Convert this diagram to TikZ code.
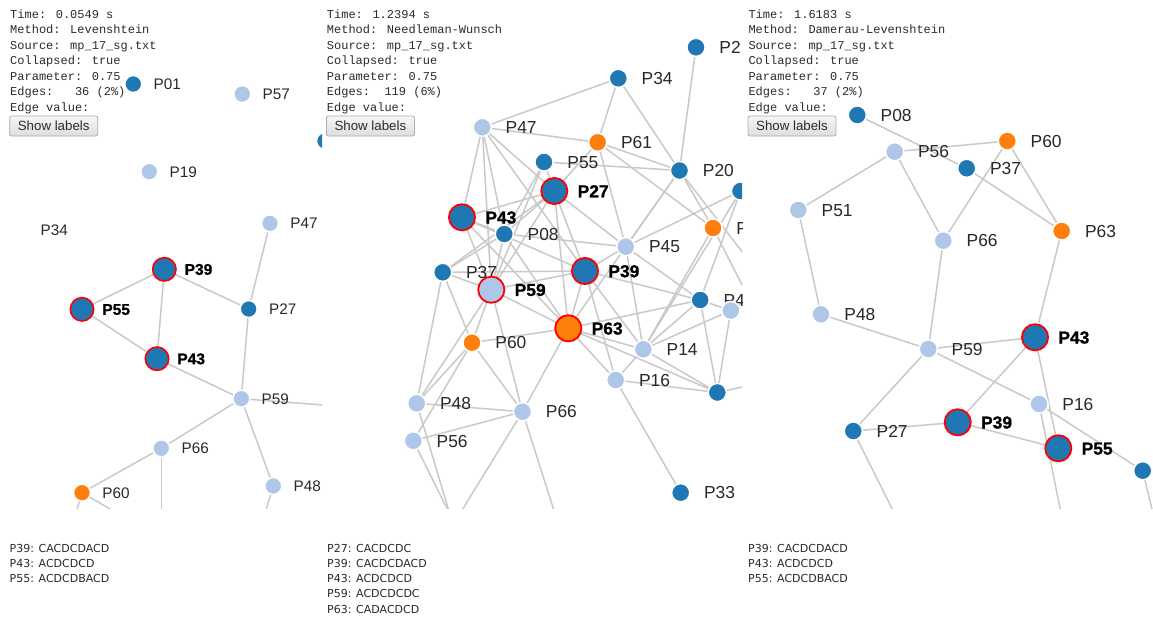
\documentclass[tikz,border=0pt]{standalone}
\usepackage{fontspec}
\setmainfont{Liberation Sans}
\newfontfamily\monof{Liberation Mono}
\newfontfamily\heavyf{Liberation Sans}[BoldFeatures={FakeBold=1}]
\newfontfamily\seqf{DejaVu Sans}
\pgfdeclarelayer{edges}
\pgfsetlayers{edges,main}
\definecolor{dkb}{HTML}{1F77B4}
\definecolor{ltb}{HTML}{AEC7E8}
\definecolor{org}{HTML}{FF7F0E}
\definecolor{edg}{HTML}{C9C9C9}
\definecolor{txt}{HTML}{2B2B2B}
\definecolor{labc}{HTML}{282828}
\definecolor{btnb}{HTML}{ADADAD}
\definecolor{btnt}{HTML}{F6F6F6}
\definecolor{btnbot}{HTML}{DDDDDD}
\tikzset{
  x=1pt, y=-1pt,
  nd/.style={circle, inner sep=0pt, outer sep=0pt, draw=white, line width=1.5pt},
  sm1/.style={nd, minimum size=17pt},
  big1/.style={nd, draw=red, line width=1.6pt, minimum size=23.4pt},
  sm/.style={nd, minimum size=18.2pt},
  big/.style={nd, draw=red, line width=1.8pt, minimum size=26.2pt},
  dk/.style={fill=dkb}, lt/.style={fill=ltb}, og/.style={fill=org},
  lab1/.style={anchor=west, xshift=20.2pt, inner sep=0pt, text height=11pt, text depth=0pt,
    font=\fontsize{15.3pt}{16pt}\selectfont, text=labc},
  blab1/.style={lab1, font=\heavyf\fontsize{15.5pt}{16pt}\selectfont\bfseries, text=black},
  lab/.style={anchor=west, xshift=23.2pt, inner sep=0pt, text height=12.5pt, text depth=0pt,
    font=\fontsize{17.4pt}{18pt}\selectfont, text=labc},
  blab/.style={lab, font=\heavyf\fontsize{17.4pt}{18pt}\selectfont\bfseries, text=black},
  edge/.style={draw=edg, line width=1.5pt},
  info/.style={anchor=base west, inner sep=0pt, font=\monof\fontsize{12pt}{14pt}\selectfont, text=txt},
  btn/.style={draw=btnb, line width=0.8pt, rounded corners=2pt, top color=btnt, bottom color=btnbot,
    minimum width=88pt, minimum height=20pt, inner sep=0pt, font=\fontsize{13.3pt}{14pt}\selectfont, text=txt},
  seq/.style={anchor=base west, inner sep=0pt, font=\seqf\fontsize{11pt}{12pt}\selectfont, text=txt},
}
\newcommand\vtx[6]{\node[#4] (#1) at (#2,#3) {}; \node[#5] (#1-l) at (#2,#3) {#6};}
\begin{document}
\begin{tikzpicture}
\useasboundingbox (0,0) rectangle (1153,619);
\begin{pgfonlayer}{edges}
\fill[white] (0,0) rectangle (1153,619);
\end{pgfonlayer}

% ---------------- panel 1 ----------------
\begin{scope}
\clip (0,0) rectangle (322,508);
\vtx{a01}{133.3}{84}{sm1,dk}{lab1}{P01}
\vtx{a57}{242.3}{94}{sm1,lt}{lab1}{P57}
\node[sm1,dk] (ax) at (325,141) {};
\vtx{a19}{149.3}{171.7}{sm1,lt}{lab1}{P19}
\node[lab1] (a34-l) at (20.3,230) {P34};
\vtx{a47}{270}{223.3}{sm1,lt}{lab1}{P47}
\vtx{a39}{164.3}{269.3}{big1,dk}{blab1}{P39}
\vtx{a55}{82}{309.3}{big1,dk}{blab1}{P55}
\vtx{a27}{248.7}{309}{sm1,dk}{lab1}{P27}
\vtx{a43}{157}{358.7}{big1,dk}{blab1}{P43}
\vtx{a59}{241.3}{398.7}{sm1,lt}{lab1}{P59}
\vtx{a66}{161.3}{448.3}{sm1,lt}{lab1}{P66}
\vtx{a60}{82}{492.7}{sm1,og}{lab1}{P60}
\vtx{a48}{273.3}{486}{sm1,lt}{lab1}{P48}
\end{scope}
\coordinate (ae1) at (330,405.5);
\coordinate (ae2) at (161.3,520);
\coordinate (ae3) at (73.8,520);
\coordinate (ae4) at (129,520);
\coordinate (ae5) at (263,520);
\begin{pgfonlayer}{edges}
\begin{scope}
\clip (0,0) rectangle (322,508);
\foreach \u/\v in {a39/a55,a39/a43,a39/a27,a55/a43,a43/a59,a27/a47,a27/a59,a59/a66,a59/a48,
  a59/ae1,a66/a60,a66/ae2,a60/ae3,a60/ae4,a48/ae5}
  \draw[edge] (\u) -- (\v);
\end{scope}
\end{pgfonlayer}

% ---------------- panel 2 ----------------
\begin{scope}
\clip (322,0) rectangle (742,508);
\vtx{b2}{696}{47.3}{sm,dk}{lab}{P2}
\vtx{b34}{618.3}{78.3}{sm,dk}{lab}{P34}
\vtx{b47}{482.3}{127.3}{sm,lt}{lab}{P47}
\vtx{b61}{597.7}{142.3}{sm,og}{lab}{P61}
\vtx{b55}{544}{162}{sm,dk}{lab}{P55}
\vtx{b20}{679.5}{170.5}{sm,dk}{lab}{P20}
\node[sm,dk] (bR) at (740.5,191) {};
\vtx{b27}{554.3}{191}{big,dk}{blab}{P27}
\vtx{bO}{713}{228}{sm,og}{lab}{P}
\vtx{b08}{504.3}{234}{sm,dk}{lab}{P08}
\vtx{b43}{462}{217.3}{big,dk}{blab}{P43}
\vtx{b45}{625.7}{246.7}{sm,lt}{lab}{P45}
\vtx{b37}{442.7}{272.3}{sm,dk}{lab}{P37}
\vtx{b39}{585}{271}{big,dk}{blab}{P39}
\vtx{b59}{491.3}{289.7}{big,lt}{blab}{P59}
\vtx{bN}{700.2}{300}{sm,dk}{lab}{P4}
\node[sm,lt] (bL) at (730.8,310.5) {};
\vtx{b60}{472}{342.7}{sm,og}{lab}{P60}
\vtx{b63}{568.3}{328.3}{big,og}{blab}{P63}
\vtx{b14}{643.3}{349.3}{sm,lt}{lab}{P14}
\vtx{b16}{615.7}{380}{sm,lt}{lab}{P16}
\node[sm,dk] (bD) at (717.3,392.5) {};
\vtx{b48}{416.7}{403.3}{sm,lt}{lab}{P48}
\vtx{b66}{522.5}{411.7}{sm,lt}{lab}{P66}
\vtx{b56}{413.3}{440.8}{sm,lt}{lab}{P56}
\vtx{b33}{680.7}{492.7}{sm,dk}{lab}{P33}
\end{scope}
\coordinate (be1) at (760,275);
\coordinate (be2) at (760,320);
\coordinate (be3) at (760,290);
\coordinate (be4) at (456,520);
\coordinate (be5) at (557,520);
\coordinate (be6) at (452.7,520);
\coordinate (be7) at (451.6,520);
\coordinate (be8) at (760,383);
\begin{pgfonlayer}{edges}
\begin{scope}
\clip (322,0) rectangle (742,508);
\foreach \u/\v in {b34/b47,b34/b61,b34/b20,b2/b20,
  b47/b61,b47/b43,b47/b59,b47/b08,b47/b27,b47/b39,
  b61/b20,b61/bO,b61/b45,b61/b27,
  b55/b20,b55/b27,b55/b08,b55/b59,
  b20/b45,b20/bO,b20/b63,b20/be1,
  bR/b45,bR/bN,bR/b14,
  bO/b14,bO/be2,
  b27/b43,b27/b08,b27/b39,b27/b45,b27/b37,b27/b63,b27/b59,
  b43/b08,b43/b59,b43/b63,b43/b39,
  b08/b45,b08/b37,b08/b59,b08/b63,
  b37/b39,b37/b59,b37/b60,b37/b48,
  b39/b63,b39/b59,b39/bN,b39/b14,b39/b16,b39/b45,
  b59/b63,b59/b60,b59/b66,
  b63/b60,b63/b16,b63/bN,b63/b66,b63/bD,b63/b14,
  b60/b48,b60/b56,b60/b66,
  b14/bN,b14/bL,b14/bD,b14/b16,b14/b45,
  b16/bD,b16/b33,
  bN/bL,bN/bD,bN/b45,
  bL/bD,bL/be3,bD/be8,
  b48/b66,b56/b66,b48/b59,
  b66/be4,b66/be5,b56/be6,b48/be7}
  \draw[edge] (\u) -- (\v);
\end{scope}
\end{pgfonlayer}

% ---------------- panel 3 ----------------
\begin{scope}
\clip (745,0) rectangle (1153,508);
\vtx{c08}{857.3}{115}{sm,dk}{lab}{P08}
\vtx{c56}{894.7}{151.7}{sm,lt}{lab}{P56}
\vtx{c60}{1007.3}{141}{sm,og}{lab}{P60}
\vtx{c37}{966.7}{168.3}{sm,dk}{lab}{P37}
\vtx{c51}{798.3}{210}{sm,lt}{lab}{P51}
\vtx{c66}{943.3}{240.7}{sm,lt}{lab}{P66}
\vtx{c63}{1061.7}{231}{sm,og}{lab}{P63}
\vtx{c48}{821}{314.3}{sm,lt}{lab}{P48}
\vtx{c59}{928.3}{349}{sm,lt}{lab}{P59}
\vtx{c43}{1035}{337.3}{big,dk}{blab}{P43}
\vtx{c16}{1039}{404}{sm,lt}{lab}{P16}
\vtx{c27}{853.3}{431}{sm,dk}{lab}{P27}
\vtx{c39}{957.7}{422.3}{big,dk}{blab}{P39}
\vtx{c55}{1058.3}{448.3}{big,dk}{blab}{P55}
\node[sm,dk] (cD) at (1142.7,470.7) {};
\end{scope}
\coordinate (ce1) at (897.7,520);
\coordinate (ce2) at (1062.4,520);
\coordinate (ce3) at (1154.6,520);
\begin{pgfonlayer}{edges}
\begin{scope}
\clip (745,0) rectangle (1153,508);
\foreach \u/\v in {c08/c37,c56/c60,c56/c51,c56/c66,c60/c66,c60/c63,c37/c63,c51/c48,c48/c59,
  c66/c59,c59/c43,c59/c16,c59/c27,c63/c43,c43/c39,c43/c55,c27/c39,c39/c55,c16/cD,
  c16/ce2,c27/ce1,cD/ce3}
  \draw[edge] (\u) -- (\v);
\end{scope}
\end{pgfonlayer}

% ---------------- info text ----------------
\newcommand\infoblock[8]{%
  \node[info] (#1-t1) at (#2,18.5) {Time: #3 s};
  \node[info] (#1-t2) at (#2,33.9) {Method: #4};
  \node[info] (#1-t3) at (#2,49.4) {Source: mp\_17\_sg.txt};
  \node[info] (#1-t4) at (#2,64.8) {Collapsed: true};
  \node[info] (#1-t5) at (#2,80.3) {Parameter: 0.75};
  \node[info] (#1-t6) at (#2,95.7) {Edges:#5#6 (#7\%)};
  \node[info] (#1-t7) at (#2,111.2) {Edge value:};
  \node[btn] (#1-btn) at (#2+43.7,126) {Show labels};}
\infoblock{ia}{10}{0.0549}{Levenshtein}{\ \ \ }{36}{2}{}
\infoblock{ib}{326.7}{1.2394}{Needleman-Wunsch}{\ \ }{119}{6}{}
\infoblock{ic}{748.3}{1.6183}{Damerau-Levenshtein}{\ \ \ }{37}{2}{}

% ---------------- sequences ----------------
\node[seq] (sa1) at (9.5,552) {P39: CACDCDACD};
\node[seq] (sa2) at (9.5,567.3) {P43: ACDCDCD};
\node[seq] (sa3) at (9.5,582.6) {P55: ACDCDBACD};
\node[seq] (sb1) at (327,552) {P27: CACDCDC};
\node[seq] (sb2) at (327,567.3) {P39: CACDCDACD};
\node[seq] (sb3) at (327,582.6) {P43: ACDCDCD};
\node[seq] (sb4) at (327,597.9) {P59: ACDCDCDC};
\node[seq] (sb5) at (327,613.2) {P63: CADACDCD};
\node[seq] (sc1) at (748,552) {P39: CACDCDACD};
\node[seq] (sc2) at (748,567.3) {P43: ACDCDCD};
\node[seq] (sc3) at (748,582.6) {P55: ACDCDBACD};
\end{tikzpicture}
\end{document}
